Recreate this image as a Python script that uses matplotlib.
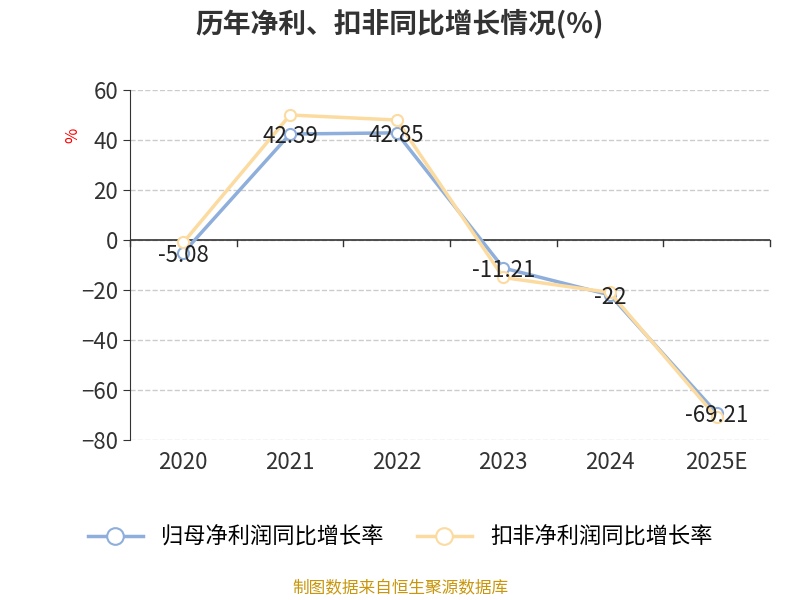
import matplotlib
matplotlib.use('Agg')
import matplotlib.pyplot as plt
plt.rcParams['font.family'] = ['Noto Sans CJK SC', 'DejaVu Sans']

years = ['2020', '2021', '2022', '2023', '2024', '2025E']
net = [-5.08, 42.39, 42.85, -11.21, -22, -69.21]
deducted = [-1, 50, 48, -15, -21, -71]
labels = ['-5.08', '42.39', '42.85', '-11.21', '-22', '-69.21']

fig = plt.figure(figsize=(8, 6), dpi=100)
ax = fig.add_axes([0.1625, 0.2667, 0.8, 0.5833])
x = list(range(len(years)))
ax.plot(x, net, color='#8eaedb', lw=2.5, marker='o', ms=8, mfc='white', mec='#8eaedb', mew=1.5, label='归母净利润同比增长率', zorder=3)
ax.plot(x, deducted, color='#fcdba0', lw=2.5, marker='o', ms=8, mfc='white', mec='#fcdba0', mew=1.5, label='扣非净利润同比增长率', zorder=4)
for xi, v, t in zip(x, net, labels):
    ax.text(xi, v - 1, t, ha='center', va='center', fontsize=16, color='#222222', zorder=5)
ax.set_xlim(-0.5, 5.5)
ax.set_ylim(-80, 60)
ax.set_yticks(range(-80, 61, 20))
ax.tick_params(axis='y', labelsize=16, colors='#333333', length=5)
ax.set_xticks(x)
ax.set_xticklabels(years)
ax.tick_params(axis='x', labelsize=16, colors='#333333', length=0, pad=8)
for xb in [i - 0.5 for i in range(7)]:
    ax.plot([xb, xb], [0, -2.5], color='#333333', lw=1, clip_on=False)
ax.axhline(0, color='#333333', lw=1.2)
ax.grid(axis='y', ls='--', color='#cccccc', lw=1)
for s in ['top', 'right', 'bottom']:
    ax.spines[s].set_visible(False)
ax.spines['left'].set_color('#333333')
ax.text(-0.09, 0.87, '%', transform=ax.transAxes, color='red', fontsize=12, rotation=90, ha='center', va='center')
fig.text(0.5, 0.96, '历年净利、扣非同比增长情况(%)', ha='center', va='center', fontsize=20, fontweight='bold', color='#333333')
fig.legend(loc='center', bbox_to_anchor=(0.5, 0.105), ncol=2, frameon=False, fontsize=16, handlelength=2.5, columnspacing=1.5, markerscale=1.5)
fig.text(0.5, 0.018, '制图数据来自恒生聚源数据库', ha='center', va='center', fontsize=12, color='#c8960c')
fig.savefig('out.png')
